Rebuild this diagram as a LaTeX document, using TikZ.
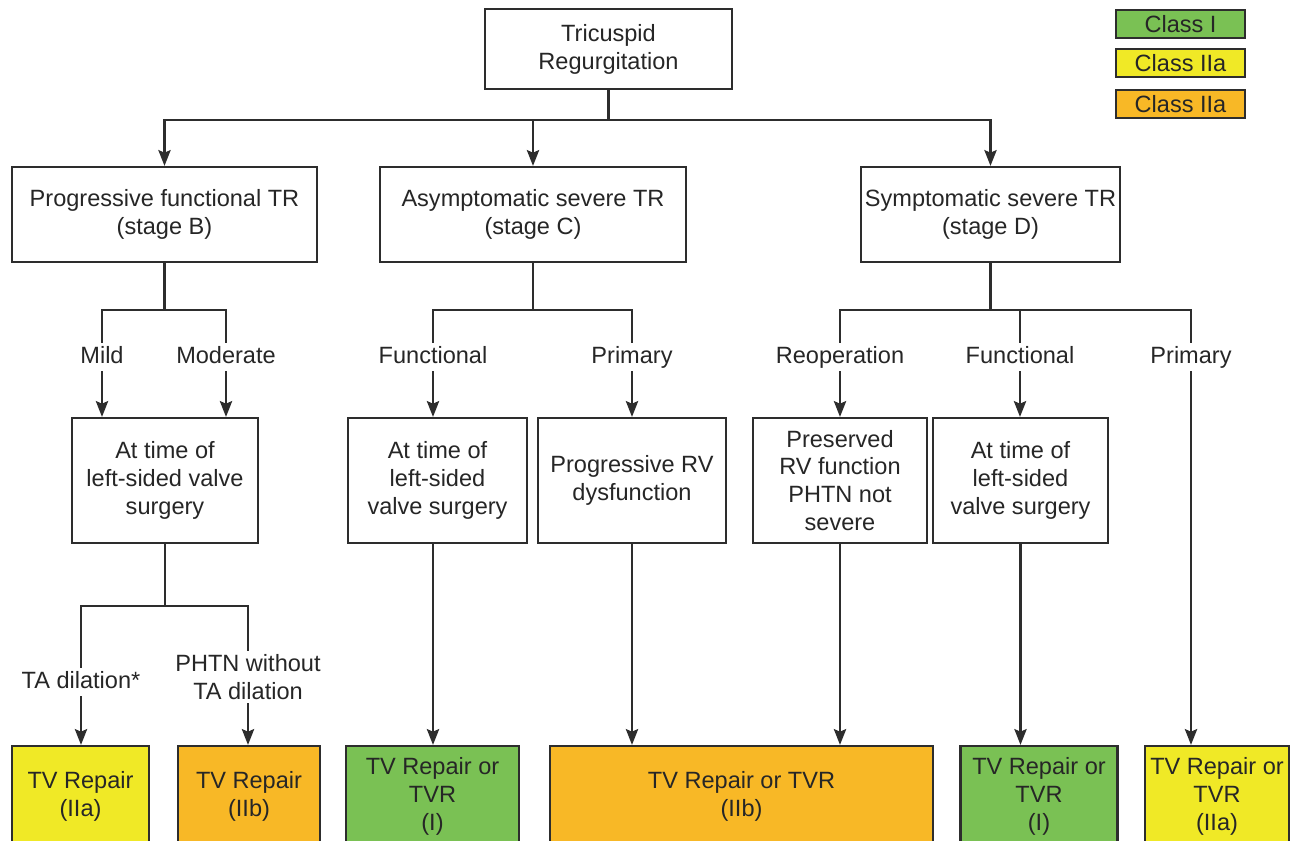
\documentclass[tikz,border=0pt]{standalone}
\usepackage{fontspec}
\setmainfont{Liberation Sans}
\usetikzlibrary{arrows.meta,positioning}
\definecolor{classgreen}{RGB}{122,193,84}
\definecolor{classyellow}{RGB}{240,233,38}
\definecolor{classorange}{RGB}{248,184,38}
\definecolor{edgegray}{RGB}{45,45,45}

\begin{document}
\begin{tikzpicture}[
  x=0.02cm, y=-0.02cm,
  every node/.style={font=\fontsize{13.4}{15.9}\selectfont, align=center, text=black!85},
  box/.style={draw=edgegray, line width=1.3pt, fill=white, inner sep=2pt},
  lbl/.style={inner sep=2pt, text height=9.5pt, text depth=2.5pt},
  link/.style={edgegray, line width=1.2pt},
  flow/.style={link, -{Stealth[length=9pt,width=7pt,inset=1.5pt]}},
  recI/.style={box, fill=classgreen},
  recIIa/.style={box, fill=classyellow},
  recIIb/.style={box, fill=classorange},
]

% ===== Frame: 1298 x 840 px, bottom boxes run past the lower edge =====
\useasboundingbox (0,0) rectangle (1298,840);
\fill[white] (0,0) rectangle (1298,840);
\clip (0,0) rectangle (1298,840);

%% ---- LEGEND ----
\node[recI, inner sep=0pt, minimum width=2.58cm, minimum height=0.56cm] (legI) at (1180.5,24) {Class I};
\node[recIIa, inner sep=0pt, minimum width=2.58cm, minimum height=0.56cm] (legIIa) at (1180.5,63) {Class IIa};
\node[recIIb, inner sep=0pt, minimum width=2.58cm, minimum height=0.56cm] (legIIb) at (1180.5,104) {Class IIa};

%% ---- ROOT ----
\node[box, minimum width=4.94cm, minimum height=1.6cm] (tr) at (608.5,49)
  {Tricuspid\\Regurgitation};
\coordinate (jTop) at (608.5,120);

%% ---- STAGES ----
\node[box, minimum width=6.1cm, minimum height=1.9cm] (stageB) at (164.5,214.5)
  {Progressive functional TR\\(stage B)};
\node[box, minimum width=6.12cm, minimum height=1.9cm] (stageC) at (533,214.5)
  {Asymptomatic severe TR\\(stage C)};
\node[box, minimum width=5.18cm, minimum height=1.9cm] (stageD) at (990.5,214.5)
  {Symptomatic severe TR\\(stage D)};

\draw[link] (tr.south) -- (jTop);
\draw[flow] (jTop) -| (stageB.north);
\draw[flow] (jTop) -| (stageC.north);
\draw[flow] (jTop) -| (stageD.north);

% branch labels
\node[lbl] (mild) at (102,357) {Mild};
\node[lbl] (moderate) at (226,357) {Moderate};
\node[lbl] (funcC) at (433,357) {Functional};
\node[lbl] (primC) at (632,357) {Primary};
\node[lbl] (reopD) at (840,357) {Reoperation};
\node[lbl] (funcD) at (1020,357) {Functional};
\node[lbl] (primD) at (1191,357) {Primary};

\coordinate (jB) at (164.5,310);
\coordinate (jC) at (533,310);
\coordinate (jD) at (990.5,310);

\draw[link] (stageB.south) -- (jB);
\draw[link] (mild.north) |- (jB) -| (moderate.north);
\draw[link] (stageC.south) -- (jC);
\draw[link] (funcC.north) |- (jC) -| (primC.north);
\draw[link] (stageD.south) -- (jD);
\draw[link] (reopD.north) |- (jD) -| (primD.north);
\draw[link] (funcD.north) -- (funcD.north |- jD);

%% ---- SECOND LEVEL ----
\node[box, minimum width=3.72cm, minimum height=2.5cm] (lsvB) at (165,480.5)
  {At time of\\left-sided valve\\surgery};
\node[box, minimum width=3.58cm, minimum height=2.5cm] (lsvC) at (437.5,480.5)
  {At time of\\left-sided\\valve surgery};
\node[box, minimum width=3.76cm, minimum height=2.5cm] (rvC) at (632,480.5)
  {Progressive RV\\dysfunction};
\node[box, minimum width=3.48cm, minimum height=2.5cm] (presD) at (840,480.5)
  {Preserved\\RV function\\PHTN not\\severe};
\node[box, minimum width=3.5cm, minimum height=2.5cm] (lsvD) at (1020.5,480.5)
  {At time of\\left-sided\\valve surgery};

\draw[flow] (mild.south) -- (mild.south |- lsvB.north);
\draw[flow] (moderate.south) -- (moderate.south |- lsvB.north);
\draw[flow] (funcC.south) -- (funcC.south |- lsvC.north);
\draw[flow] (primC.south) -- (primC.south |- rvC.north);
\draw[flow] (reopD.south) -- (reopD.south |- presD.north);
\draw[flow] (funcD.south) -- (funcD.south |- lsvD.north);

%% ---- TA branch under stage B ----
\node[lbl] (tadil) at (81,682) {TA dilation*};
\node[inner sep=2pt] (phtn) at (248,677) {PHTN without\\TA dilation};
\coordinate (jB2) at (165,606);
\draw[link] (lsvB.south) -- (jB2);
\draw[link] (tadil.north) |- (jB2) -| (phtn.north);

%% ---- RECOMMENDATIONS ----
\node[recIIa, minimum width=2.74cm, minimum height=2cm] (repB1) at (80.5,796)
  {TV Repair\\(IIa)};
\node[recIIb, minimum width=2.84cm, minimum height=2cm] (repB2) at (249,796)
  {TV Repair\\(IIb)};
\node[recI, minimum width=3.46cm, minimum height=2cm] (repC1) at (432.5,796)
  {TV Repair or\\TVR\\(I)};
\node[recIIb, minimum width=7.66cm, minimum height=2cm] (repC2) at (741.5,796)
  {TV Repair or TVR\\(IIb)};
\node[recI, minimum width=3.14cm, minimum height=2cm] (repD2) at (1039,796)
  {TV Repair or\\TVR\\(I)};
\node[recIIa, minimum width=2.88cm, minimum height=2cm] (repD3) at (1217,796)
  {TV Repair or\\TVR\\(IIa)};

\draw[flow] (tadil.south) -- (tadil.south |- repB1.north);
\draw[flow] (phtn.south) -- (phtn.south |- repB2.north);
\draw[flow] (funcC |- lsvC.south) -- (funcC |- repC1.north);
\draw[flow] (rvC.south) -- (rvC.south |- repC2.north);
\draw[flow] (presD.south) -- (presD.south |- repC2.north);
\draw[flow] (lsvD.south) -- (lsvD.south |- repD2.north);
\draw[flow] (primD.south) -- (primD.south |- repD3.north);

\end{tikzpicture}
\end{document}
